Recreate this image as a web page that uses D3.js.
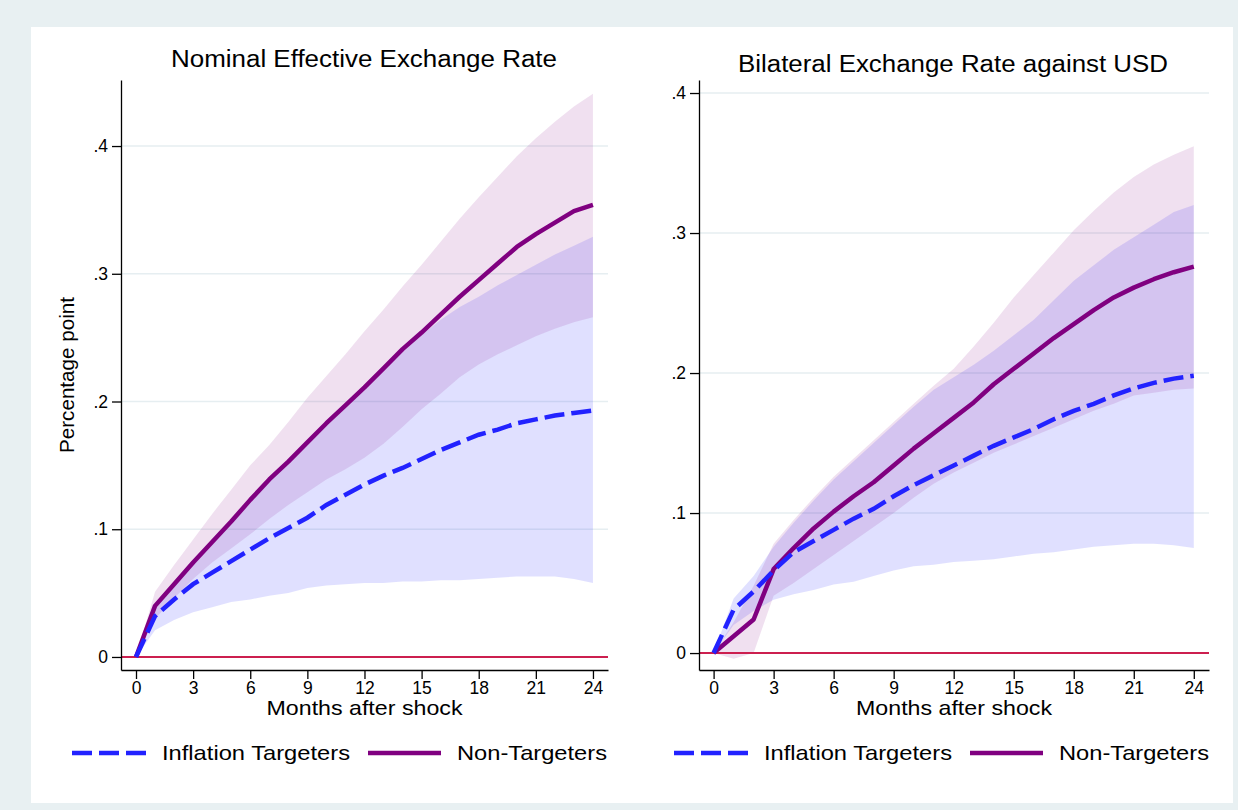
<!DOCTYPE html>
<html>
<head>
<meta charset="utf-8">
<script src="https://cdn.jsdelivr.net/npm/d3@7"></script>
<style>
  body { margin: 0; background: #e8f0f2; }
  svg text { font-family: "Liberation Sans", Arial, sans-serif; fill: #000; }
</style>
</head>
<body>
<script>
/***** Data *****/
var months = [0, 1, 2, 3, 4, 5, 6, 7, 8, 9, 10, 11, 12, 13, 14, 15, 16, 17, 18, 19, 20, 21, 22, 23, 24];
var xTickValues = [0, 3, 6, 9, 12, 15, 18, 21, 24];
var yTickValues = [0, 0.1, 0.2, 0.3, 0.4];
var yTickLabels = ["0", ".1", ".2", ".3", ".4"];
var seriesNames = ["Inflation Targeters", "Non-Targeters"];

// Nominal effective exchange rate
var neerIT   = [0, .032, .045, .057, .066, .075, .084, .093, .101, .109, .119, .127, .135, .142, .148, .155, .162, .168, .174, .178, .183, .186, .189, .191, .193];
var neerITLo = [0, .021, .029, .035, .039, .043, .045, .048, .050, .054, .056, .057, .058, .058, .059, .059, .060, .060, .061, .062, .063, .063, .063, .061, .058];
var neerITHi = [0, .038, .055, .072, .088, .104, .121, .137, .151, .166, .181, .195, .209, .224, .239, .252, .264, .274, .282, .291, .299, .307, .315, .322, .329];
var neerNT   = [0, .040, .057, .074, .090, .106, .123, .139, .153, .168, .183, .197, .211, .226, .241, .254, .268, .282, .295, .308, .321, .331, .340, .349, .354];
var neerNTLo = [0, .030, .046, .061, .074, .085, .096, .108, .119, .129, .139, .147, .156, .167, .180, .194, .206, .219, .229, .237, .244, .251, .257, .262, .266];
var neerNTHi = [0, .051, .072, .092, .112, .131, .150, .166, .184, .203, .220, .237, .255, .272, .290, .307, .325, .343, .360, .376, .392, .406, .419, .431, .441];

// Bilateral exchange rate against USD
var usdIT   = [0, .031, .044, .059, .072, .080, .088, .096, .103, .112, .120, .127, .134, .141, .148, .154, .160, .167, .173, .178, .184, .189, .193, .196, .198];
var usdITLo = [0, .020, .030, .038, .042, .045, .049, .051, .055, .059, .062, .063, .065, .066, .067, .069, .071, .072, .074, .076, .077, .078, .078, .077, .075];
var usdITHi = [0, .039, .055, .076, .093, .109, .124, .137, .150, .163, .176, .188, .197, .206, .216, .227, .238, .252, .266, .277, .288, .297, .306, .315, .320];
var usdNT   = [0, .012, .024, .060, .075, .089, .101, .112, .122, .134, .146, .157, .168, .179, .192, .203, .214, .225, .235, .245, .254, .261, .267, .272, .276];
var usdNTLo = [0, -.004, 0, .041, .050, .060, .070, .080, .090, .100, .111, .121, .129, .136, .143, .149, .155, .161, .167, .173, .178, .184, .186, .188, .189];
var usdNTHi = [0, .022, .048, .078, .095, .111, .126, .139, .152, .165, .178, .191, .203, .219, .236, .254, .270, .286, .302, .316, .329, .340, .349, .356, .362];

/***** Configuration *****/
var W = 1238, H = 810;
var blue = "#2222ff", purple = "#800080", zeroRed = "#cc1f4f", gridColor = "#e6eef1";
var fontFamily = "'Liberation Sans', Arial, sans-serif";

var svg = d3.select("body").append("svg")
  .attr("width", W).attr("height", H);

svg.append("rect").attr("width", W).attr("height", H).attr("fill", "#e8f0f2");
svg.append("rect").attr("x", 31).attr("y", 27).attr("width", 1202).attr("height", 776).attr("fill", "#fff");

var panels = [
  {
    title: "Nominal Effective Exchange Rate", titleX: 364, titleY: 67, titleLen: 386,
    xDomain: [-0.788, 24.79], xRange: [121, 608],
    yDomain: [-0.0102, 0.4517], yRange: [670, 80],
    it: neerIT, itLo: neerITLo, itHi: neerITHi,
    nt: neerNT, ntLo: neerNTLo, ntHi: neerNTHi,
    ylabel: true, legendX: 72
  },
  {
    title: "Bilateral Exchange Rate against USD", titleX: 953, titleY: 72, titleLen: 430,
    xDomain: [-0.73, 24.76], xRange: [699, 1209],
    yDomain: [-0.0121, 0.4093], yRange: [670, 80],
    it: usdIT, itLo: usdITLo, itHi: usdITHi,
    nt: usdNT, ntLo: usdNTLo, ntHi: usdNTHi,
    ylabel: false, legendX: 674
  }
];

panels.forEach(drawPanel);

function drawPanel(p) {
  var x = d3.scaleLinear().domain(p.xDomain).range(p.xRange);
  var y = d3.scaleLinear().domain(p.yDomain).range(p.yRange);
  var g = svg.append("g");
  var left = p.xRange[0], right = p.xRange[1];

  // gridlines
  g.selectAll(".grid").data(yTickValues.filter(function (d) { return d > 0; }))
    .enter().append("line")
    .attr("x1", left).attr("x2", right)
    .attr("y1", function (d) { return y(d); }).attr("y2", function (d) { return y(d); })
    .attr("stroke", gridColor).attr("stroke-width", 1.5);

  // confidence bands
  var band = function (lo, hi) {
    return d3.area()
      .x(function (d, i) { return x(months[i]); })
      .y0(function (d, i) { return y(lo[i]); })
      .y1(function (d, i) { return y(hi[i]); })(months);
  };
  g.append("path").attr("d", band(p.itLo, p.itHi)).attr("fill", "#0000ff").attr("fill-opacity", 0.12);
  g.append("path").attr("d", band(p.ntLo, p.ntHi)).attr("fill", purple).attr("fill-opacity", 0.12);

  // zero line
  g.append("line").attr("x1", left).attr("x2", right)
    .attr("y1", y(0)).attr("y2", y(0))
    .attr("stroke", zeroRed).attr("stroke-width", 2);

  // response lines
  var line = d3.line()
    .x(function (d, i) { return x(months[i]); })
    .y(function (d) { return y(d); });
  g.append("path").datum(p.nt).attr("d", line)
    .attr("fill", "none").attr("stroke", purple).attr("stroke-width", 4.5)
    .attr("stroke-linejoin", "round");
  g.append("path").datum(p.it).attr("d", line)
    .attr("fill", "none").attr("stroke", blue).attr("stroke-width", 4.5)
    .attr("stroke-dasharray", "20 7");

  // axes
  var xAxis = d3.axisBottom(x).tickValues(xTickValues).tickSize(9).tickSizeOuter(0).tickPadding(3);
  var yAxis = d3.axisLeft(y).tickValues(yTickValues).tickSize(9).tickSizeOuter(0).tickPadding(4)
    .tickFormat(function (d, i) { return yTickLabels[i]; });

  var gx = g.append("g").attr("transform", "translate(0," + p.yRange[0] + ")").call(xAxis);
  var gy = g.append("g").attr("transform", "translate(" + left + ",0)").call(yAxis);
  [gx, gy].forEach(function (ax) {
    ax.selectAll("path, line").attr("stroke", "#000").attr("stroke-width", 1.3);
    ax.selectAll("text").attr("font-size", 17.5).attr("fill", "#000")
      .style("font-family", fontFamily);
  });

  // titles
  g.append("text").attr("x", p.titleX).attr("y", p.titleY)
    .attr("text-anchor", "middle").attr("font-size", 23)
    .attr("textLength", p.titleLen).attr("lengthAdjust", "spacingAndGlyphs")
    .text(p.title);

  var midX = (left + right) / 2;
  g.append("text").attr("x", midX).attr("y", 715)
    .attr("text-anchor", "middle").attr("font-size", 21)
    .attr("textLength", 196).attr("lengthAdjust", "spacingAndGlyphs")
    .text("Months after shock");

  if (p.ylabel) {
    g.append("text").attr("transform", "translate(74,375) rotate(-90)")
      .attr("text-anchor", "middle").attr("font-size", 20)
      .attr("textLength", 156).attr("lengthAdjust", "spacingAndGlyphs")
      .text("Percentage point");
  }

  // legend
  var lx = p.legendX, ly = 753;
  g.append("line").attr("x1", lx).attr("x2", lx + 74).attr("y1", ly).attr("y2", ly)
    .attr("stroke", blue).attr("stroke-width", 4.5).attr("stroke-dasharray", "20 7");
  g.append("text").attr("x", lx + 90).attr("y", ly + 7).attr("font-size", 21)
    .attr("textLength", 188).attr("lengthAdjust", "spacingAndGlyphs")
    .text(seriesNames[0]);
  g.append("line").attr("x1", lx + 296).attr("x2", lx + 369).attr("y1", ly).attr("y2", ly)
    .attr("stroke", purple).attr("stroke-width", 4.5);
  g.append("text").attr("x", lx + 385).attr("y", ly + 7).attr("font-size", 21)
    .attr("textLength", 150).attr("lengthAdjust", "spacingAndGlyphs")
    .text(seriesNames[1]);
}
</script>
</body>
</html>
